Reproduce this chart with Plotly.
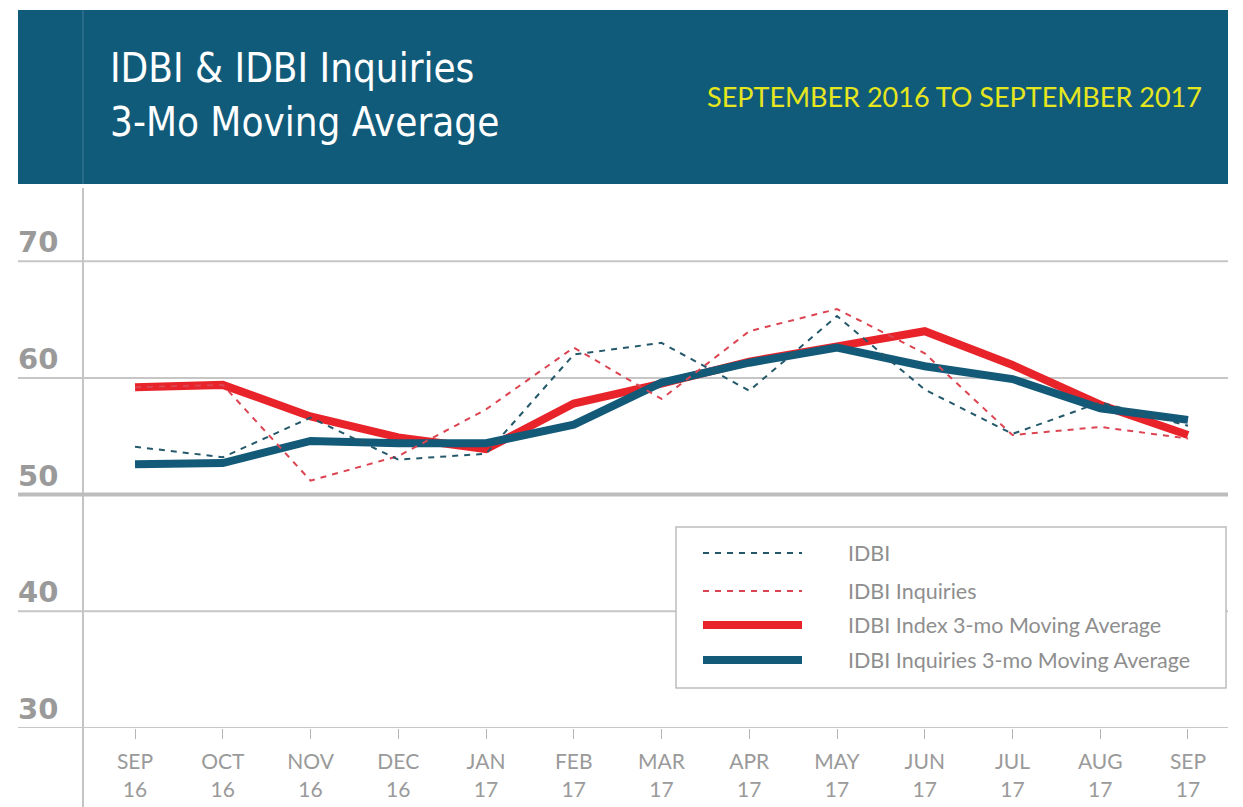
import plotly.graph_objects as go

W, H = 1243, 807

months = ["SEP", "OCT", "NOV", "DEC", "JAN", "FEB", "MAR", "APR", "MAY", "JUN", "JUL", "AUG", "SEP"]
years = ["16", "16", "16", "16", "17", "17", "17", "17", "17", "17", "17", "17", "17"]

idbi = [54.1, 53.2, 56.6, 53.0, 53.5, 62.0, 63.0, 58.9, 65.3, 59.0, 55.2, 57.9, 55.9]
idbi_inquiries = [59.2, 59.4, 51.2, 53.3, 57.3, 62.6, 58.2, 64.0, 65.9, 62.1, 55.1, 55.8, 54.8]
idbi_index_ma = [59.2, 59.4, 56.7, 54.9, 53.9, 57.8, 59.5, 61.4, 62.7, 64.0, 61.1, 57.7, 55.1]
idbi_inquiries_ma = [52.6, 52.7, 54.6, 54.4, 54.4, 56.0, 59.6, 61.3, 62.6, 61.0, 59.9, 57.4, 56.4]

y_ticks = [30, 40, 50, 60, 70]

series_names = ["IDBI", "IDBI Inquiries", "IDBI Index 3-mo Moving Average",
                "IDBI Inquiries 3-mo Moving Average"]

BLUE_D = "#24596b"
RED_D = "#dc4451"
RED = "#e8232a"
BLUE = "#135a79"
GRAY_TXT = "#9a9a9a"
TITLE_FONT = "DejaVu Sans Condensed, Roboto, sans-serif"


def px(x):
    return x / W


def py(y):
    return 1 - y / H


xs = list(range(len(months)))
ticktext = [f"{m}<br>{y}" for m, y in zip(months, years)]

styles = {
    series_names[0]: dict(color=BLUE_D, width=2, dash="6px,6px"),
    series_names[1]: dict(color=RED_D, width=2, dash="6px,6px"),
    series_names[2]: dict(color=RED, width=8),
    series_names[3]: dict(color=BLUE, width=8),
}
data_map = {
    series_names[0]: idbi,
    series_names[1]: idbi_inquiries,
    series_names[2]: idbi_index_ma,
    series_names[3]: idbi_inquiries_ma,
}

fig = go.Figure()
for name in [series_names[2], series_names[3], series_names[1], series_names[0]]:
    fig.add_trace(go.Scatter(x=xs, y=data_map[name], mode="lines", name=name,
                             line=styles[name], showlegend=False, hoverinfo="skip"))

shapes = []
# header band
shapes.append(dict(type="rect", xref="paper", yref="paper", x0=px(18), x1=px(1228),
                   y0=py(184), y1=py(10), fillcolor="#115b7a", line=dict(width=0), layer="below"))
shapes.append(dict(type="line", xref="paper", yref="paper", x0=px(83), x1=px(83),
                   y0=py(184), y1=py(10), line=dict(color="#3f7c96", width=1)))
# y-axis line
shapes.append(dict(type="line", xref="paper", yref="paper", x0=px(83), x1=px(83),
                   y0=py(188), y1=py(807), line=dict(color="#c4c4c4", width=2), layer="below"))
# gridlines
for v in y_ticks:
    shapes.append(dict(type="line", xref="paper", yref="y", x0=px(18), x1=px(1228),
                       y0=v, y1=v, layer="below",
                       line=dict(color="#c6c6c6" if v != 50 else "#bdbdbd", width=4 if v == 50 else 2)))

annotations = []
for v in y_ticks:
    annotations.append(dict(xref="paper", yref="y", x=px(16), y=v, yshift=19,
                            xanchor="left", yanchor="middle", showarrow=False, text=str(v),
                            font=dict(family="DejaVu Sans", size=29, color=GRAY_TXT, weight="bold")))

# titles
annotations.append(dict(xref="paper", yref="paper", x=px(108), y=py(68), xanchor="left",
                        yanchor="middle", showarrow=False, text="IDBI & IDBI Inquiries",
                        font=dict(family=TITLE_FONT, size=40, color="white")))
annotations.append(dict(xref="paper", yref="paper", x=px(108), y=py(122), xanchor="left",
                        yanchor="middle", showarrow=False, text="3-Mo Moving Average",
                        font=dict(family=TITLE_FONT, size=40, color="white")))
annotations.append(dict(xref="paper", yref="paper", x=px(1204), y=py(97), xanchor="right",
                        yanchor="middle", showarrow=False, text="SEPTEMBER 2016 TO SEPTEMBER 2017",
                        font=dict(family="Lato", size=27, color="#e6e61e")))

# legend (custom)
shapes.append(dict(type="rect", xref="paper", yref="paper", x0=px(676), x1=px(1226),
                   y0=py(688), y1=py(527), line=dict(color="#bdbdbd", width=1.5),
                   fillcolor="white"))
rows = [553, 591, 625, 660]
for name, ry in zip(series_names, rows):
    st = styles[name]
    shapes.append(dict(type="line", xref="paper", yref="paper", x0=px(703), x1=px(802),
                       y0=py(ry), y1=py(ry),
                       line=dict(color=st["color"], width=st["width"], dash=st.get("dash", "solid"))))
    annotations.append(dict(xref="paper", yref="paper", x=px(846), y=py(ry), xanchor="left",
                            yanchor="middle", showarrow=False, text=name,
                            font=dict(family="Lato", size=21.5, color="#8e8e8e")))

fig.update_layout(
    width=W, height=H,
    margin=dict(l=0, r=0, t=0, b=0),
    paper_bgcolor="white", plot_bgcolor="rgba(0,0,0,0)",
    shapes=shapes, annotations=annotations,
    xaxis=dict(domain=[px(83), px(1228)], range=[-0.593, 12.456],
               tickmode="array", tickvals=xs, ticktext=ticktext,
               ticks="outside", ticklen=10, tickwidth=1, tickcolor="#b5b5b5",
               ticklabelstandoff=5,
               showgrid=False, zeroline=False, showline=False,
               tickfont=dict(family="Lato", size=21, color=GRAY_TXT)),
    yaxis=dict(domain=[py(728), py(190)], range=[30, 76.1],
               showticklabels=False, showgrid=False, zeroline=False, showline=False),
)

fig.write_html("out.html", config={"displayModeBar": False},
               post_script="document.body.style.margin='0';")
